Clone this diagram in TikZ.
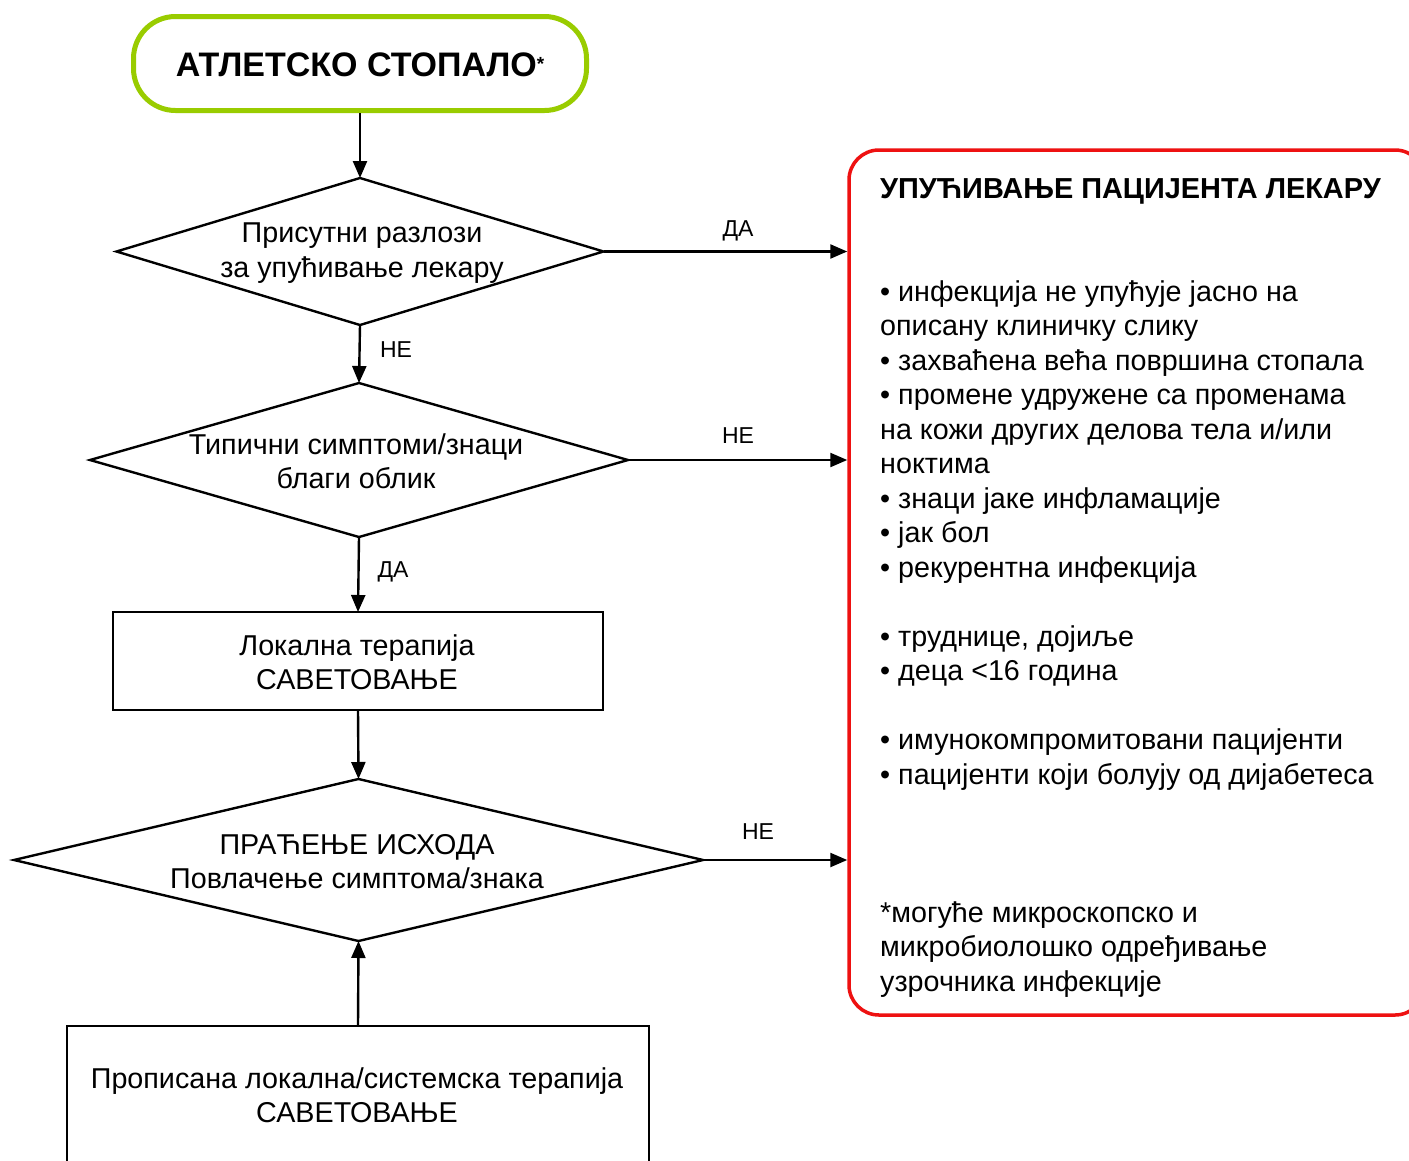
\documentclass[tikz,border=0pt]{standalone}
\usepackage{fontspec}
\setmainfont{Liberation Sans}
\usetikzlibrary{shapes.geometric,arrows.meta}
\definecolor{lgreen}{HTML}{99CC00}
\definecolor{rred}{HTML}{EE1111}
\tikzset{
  flow/.style={line width=2.4pt,draw=black},
  dia/.style={flow,diamond,inner sep=0pt,outer sep=0pt},
  boxx/.style={flow,rectangle,inner sep=0pt,outer sep=0pt},
  txt/.style={align=center,font=\fontsize{28.7}{34.5}\selectfont,inner sep=0pt},
  lbl/.style={font=\fontsize{23}{26}\selectfont,inner sep=0pt},
  arr/.style={line width=2.4pt,-{Triangle[length=17pt,width=14pt]}},
  body/.style={anchor=base west,inner sep=0pt,font=\fontsize{28.7}{33}\selectfont}
}
\begin{document}
\begin{tikzpicture}[x=1pt,y=-1pt]
\useasboundingbox (0,0) rectangle (1409,1160);
\clip (0,0) rectangle (1409,1160);
\fill[white] (0,0) rectangle (1409,1160);
% start
\node[draw=lgreen,line width=5pt,rounded corners=42pt,minimum width=453pt,minimum height=94pt,inner sep=0pt] (start) at (360,63.5) {};
\node[font=\fontsize{34}{38}\selectfont\bfseries,inner sep=0pt] (starttxt) at (360,65) {АТЛЕТСКО СТОПАЛО\raisebox{6pt}{\fontsize{19}{19}\selectfont *}};
% diamonds
\node[dia,minimum width=487pt,minimum height=147pt] (d1) at (360,251.5) {};
\node[txt] (d1t) at (362,253) {Присутни разлози\\за упућивање лекару};
\node[dia,minimum width=538pt,minimum height=154pt] (d2) at (359,460) {};
\node[txt] (d2t) at (356,461) {Типични симптоми/знаци\\благи облик};
\node[boxx,minimum width=490pt,minimum height=98pt] (r1) at (358,661) {};
\node[txt] (r1t) at (357,662) {Локална терапија\\САВЕТОВАЊЕ};
\node[dia,minimum width=689pt,minimum height=162pt] (d3) at (358.5,860) {};
\node[txt] (d3t) at (357,861.5) {ПРАЋЕЊЕ ИСХОДА\\Повлачење симптома/знака};
\node[boxx,minimum width=582pt,minimum height=160pt,anchor=north] (r2) at (358,1026) {};
\node[txt] (r2t) at (357,1095) {Прописана локална/системска терапија\\САВЕТОВАЊЕ};
% red box
\node[draw=rred,line width=3.5pt,rounded corners=30pt,minimum width=576pt,minimum height=865pt,inner sep=0pt] (rb) at (1137,582.5) {};
\node[anchor=base west,inner sep=0pt,font=\fontsize{28.9}{32}\selectfont\bfseries] (rbt) at (880,198) {УПУЋИВАЊЕ ПАЦИЈЕНТА ЛЕКАРУ};
\foreach \t [count=\i] in {
{• инфекција не упућује јасно на},
{описану клиничку слику},
{• захваћена већа површина стопала},
{• промене удружене са променама},
{на кожи других делова тела и/или},
{ноктима},
{• знаци јаке инфламације},
{• јак бол},
{• рекурентна инфекција},
{},
{• труднице, дојиље},
{• деца <16 година},
{},
{• имунокомпромитовани пацијенти},
{• пацијенти који болују од дијабетеса},
{},{},{},
{*могуће микроскопско и},
{микробиолошко одређивање},
{узрочника инфекције}}
  \node[body] (line\i) at (880,{301+34.5*(\i-1)}) {\t};
% connectors
\draw[arr] (start.south) -- (d1.north);
\draw[arr] (d1.south) -- (d2.north);
\draw[arr] (d2.south) -- (r1.north);
\draw[arr] (r1.south) -- (d3.north);
\draw[arr] (r2.north) -- (d3.south);
\draw[arr] (d1.east) -- (d1.east -| rb.west);
\draw[arr] (d2.east) -- (d2.east -| rb.west);
\draw[arr] (d3.east) -- (d3.east -| rb.west);
% labels
\node[lbl] (l1) at (738,231) {ДА};
\node[lbl] (l2) at (396,350) {НЕ};
\node[lbl] (l3) at (738,436) {НЕ};
\node[lbl] (l4) at (393,572) {ДА};
\node[lbl] (l5) at (758,832) {НЕ};
\end{tikzpicture}
\end{document}
